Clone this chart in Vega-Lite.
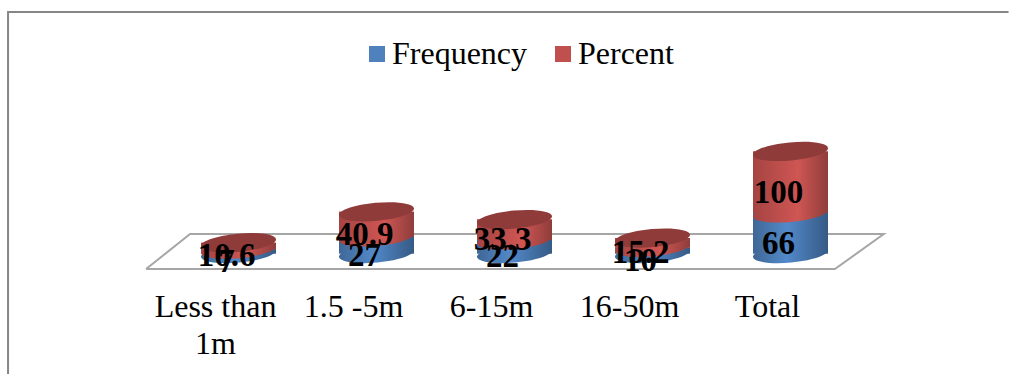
{
  "$schema": "https://vega.github.io/schema/vega-lite/v6.json",
  "width": 690,
  "height": 278,
  "autosize": {"type": "none"},
  "padding": {"left": 169.5, "right": 149.5, "top": 12, "bottom": 84},
  "background": "white",
  "config": {"view": {"stroke": null}},
  "datasets": {
    "floor": [
      {"step": 1, "fx": -0.17, "fy": -25.2},
      {"step": 2, "fx": 0.149, "fy": 31.7},
      {"step": 3, "fx": 5.176, "fy": 31.7},
      {"step": 4, "fx": 4.822, "fy": -25.2},
      {"step": 5, "fx": -0.17, "fy": -25.2}
    ],
    "frame": [
      {"step": 1, "fx": -1.17, "fy": -215},
      {"step": 2, "fx": -1.17, "fy": 392.7},
      {"step": 3, "fx": 6.08, "fy": 392.7}
    ]
  },
  "data": {
    "values": [
      {"range": "Less than 1m", "series": "Frequency", "value": 7},
      {"range": "Less than 1m", "series": "Percent", "value": 10.6},
      {"range": "1.5 -5m", "series": "Frequency", "value": 27},
      {"range": "1.5 -5m", "series": "Percent", "value": 40.9},
      {"range": "6-15m", "series": "Frequency", "value": 22},
      {"range": "6-15m", "series": "Percent", "value": 33.3},
      {"range": "16-50m", "series": "Frequency", "value": 10},
      {"range": "16-50m", "series": "Percent", "value": 15.2},
      {"range": "Total", "series": "Frequency", "value": 66},
      {"range": "Total", "series": "Percent", "value": 100}
    ]
  },
  "transform": [
    {"stack": "value", "groupby": ["range"], "sort": [{"field": "series", "order": "ascending"}], "as": ["low", "high"]}
  ],
  "encoding": {
    "x": {
      "field": "range",
      "type": "nominal",
      "sort": null,
      "scale": {"type": "band", "paddingInner": 0, "paddingOuter": 0},
      "axis": null
    }
  },
  "layer": [
    {
      "data": {"name": "frame"},
      "mark": {"type": "line", "stroke": "#868686", "strokeWidth": 2},
      "encoding": {
        "x": {"field": "fx", "type": "quantitative", "scale": {"domain": [0, 5], "range": [0, 690]}, "axis": null},
        "y": {"field": "fy", "type": "quantitative", "axis": null, "scale": {"domain": [-59.3, 392.7], "nice": false, "zero": false}},
        "order": {"field": "step"}
      }
    },
    {
      "data": {"name": "floor"},
      "mark": {"type": "line", "stroke": "#a6a6a6", "strokeWidth": 2},
      "encoding": {
        "x": {"field": "fx", "type": "quantitative", "scale": {"domain": [0, 5], "range": [0, 690]}, "axis": null},
        "y": {"field": "fy", "type": "quantitative"},
        "order": {"field": "step"}
      }
    },
    {
      "transform": [{"filter": "datum.series == 'Frequency'"}],
      "mark": {"type": "bar", "width": 75},
      "encoding": {
        "x": {
          "field": "range",
          "type": "nominal",
          "sort": null,
          "scale": {"type": "band", "paddingInner": 0, "paddingOuter": 0},
          "axis": {
            "title": null,
            "domain": false,
            "ticks": false,
            "labelAngle": 0,
            "labelFont": "Liberation Serif",
            "labelFontSize": 32,
            "labelColor": "black",
            "labelPadding": 1,
            "labelLimit": 300,
            "labelLineHeight": 37,
            "labelOffset": -23,
            "labelExpr": "datum.label == 'Less than 1m' ? ['Less than', '1m'] : datum.label"
          }
        },
        "y": {"field": "low", "type": "quantitative"},
        "y2": {"field": "high"},
        "color": {
          "field": "series",
          "type": "nominal",
          "scale": {"domain": ["Frequency", "Percent"], "range": ["#4f81bd", "#c0504d"]},
          "legend": {
            "title": null,
            "orient": "none",
            "legendX": 191.5,
            "legendY": 26,
            "direction": "horizontal",
            "symbolType": "square",
            "symbolSize": 256,
            "symbolStrokeWidth": 0,
            "labelFont": "Liberation Serif",
            "labelFontSize": 32,
            "labelColor": "black",
            "labelLimit": 300,
            "columnPadding": 19,
            "labelOffset": -1
          }
        }
      }
    },
    {
      "transform": [{"filter": "datum.series == 'Frequency'"}],
      "mark": {"type": "bar", "width": 75,
        "fill": {"gradient": "linear", "x1": 0, "x2": 1, "y1": 0, "y2": 0, "stops": [
          {"offset": 0, "color": "#3f6796"},
          {"offset": 0.45, "color": "#5289c9"},
          {"offset": 1, "color": "#365a85"}]}},
      "encoding": {
        "y": {"field": "low", "type": "quantitative"},
        "y2": {"field": "high"}
      }
    },
    {
      "transform": [{"filter": "datum.series == 'Frequency'"}],
      "mark": {"type": "point", "filled": true, "opacity": 1, "size": 5625,
        "fill": {"gradient": "linear", "x1": 0, "x2": 1, "y1": 0, "y2": 0, "stops": [
          {"offset": 0, "color": "#3f6796"},
          {"offset": 0.45, "color": "#5289c9"},
          {"offset": 1, "color": "#365a85"}]},
        "shape": "M-1,0.093A1.004,0.24,-5.3,1,1,1,-0.093A1.004,0.24,-5.3,1,1,-1,0.093Z"},
      "encoding": {"y": {"field": "low", "type": "quantitative"}}
    },
    {
      "transform": [{"filter": "datum.series == 'Percent'"}],
      "mark": {"type": "bar", "width": 75},
      "encoding": {
        "y": {"field": "low", "type": "quantitative"},
        "y2": {"field": "high"},
        "color": {"field": "series", "type": "nominal"}
      }
    },
    {
      "transform": [{"filter": "datum.series == 'Percent'"}],
      "mark": {"type": "bar", "width": 75,
        "fill": {"gradient": "linear", "x1": 0, "x2": 1, "y1": 0, "y2": 0, "stops": [
          {"offset": 0, "color": "#a54442"},
          {"offset": 0.6, "color": "#cf5653"},
          {"offset": 1, "color": "#8f3d3b"}]}},
      "encoding": {
        "y": {"field": "low", "type": "quantitative"},
        "y2": {"field": "high"}
      }
    },
    {
      "transform": [{"filter": "datum.series == 'Percent'"}],
      "mark": {"type": "point", "filled": true, "opacity": 1, "size": 5625,
        "fill": {"gradient": "linear", "x1": 0, "x2": 1, "y1": 0, "y2": 0, "stops": [
          {"offset": 0, "color": "#a54442"},
          {"offset": 0.6, "color": "#cf5653"},
          {"offset": 1, "color": "#8f3d3b"}]},
        "shape": "M-1,0.093A1.004,0.24,-5.3,1,1,1,-0.093A1.004,0.24,-5.3,1,1,-1,0.093Z"},
      "encoding": {"y": {"field": "low", "type": "quantitative"}}
    },
    {
      "transform": [{"filter": "datum.series == 'Percent'"}],
      "mark": {"type": "point", "filled": true, "opacity": 1, "size": 5625, "fill": "#8e3b39",
        "shape": "M-1,0.093A1.004,0.24,-5.3,1,1,1,-0.093A1.004,0.24,-5.3,1,1,-1,0.093Z"},
      "encoding": {"y": {"field": "high", "type": "quantitative"}}
    },
    {
      "mark": {"type": "text", "font": "Liberation Serif", "fontSize": 33, "fontWeight": "bold", "color": "black", "dx": -12, "dy": 10.5, "baseline": "middle"},
      "encoding": {
        "y": {"field": "value", "type": "quantitative", "stack": "zero", "bandPosition": 0.5},
        "detail": {"field": "series"},
        "order": {"field": "series"},
        "text": {"field": "value", "type": "quantitative"}
      }
    }
  ],
  "resolve": {"scale": {"x": "independent"}}
}
